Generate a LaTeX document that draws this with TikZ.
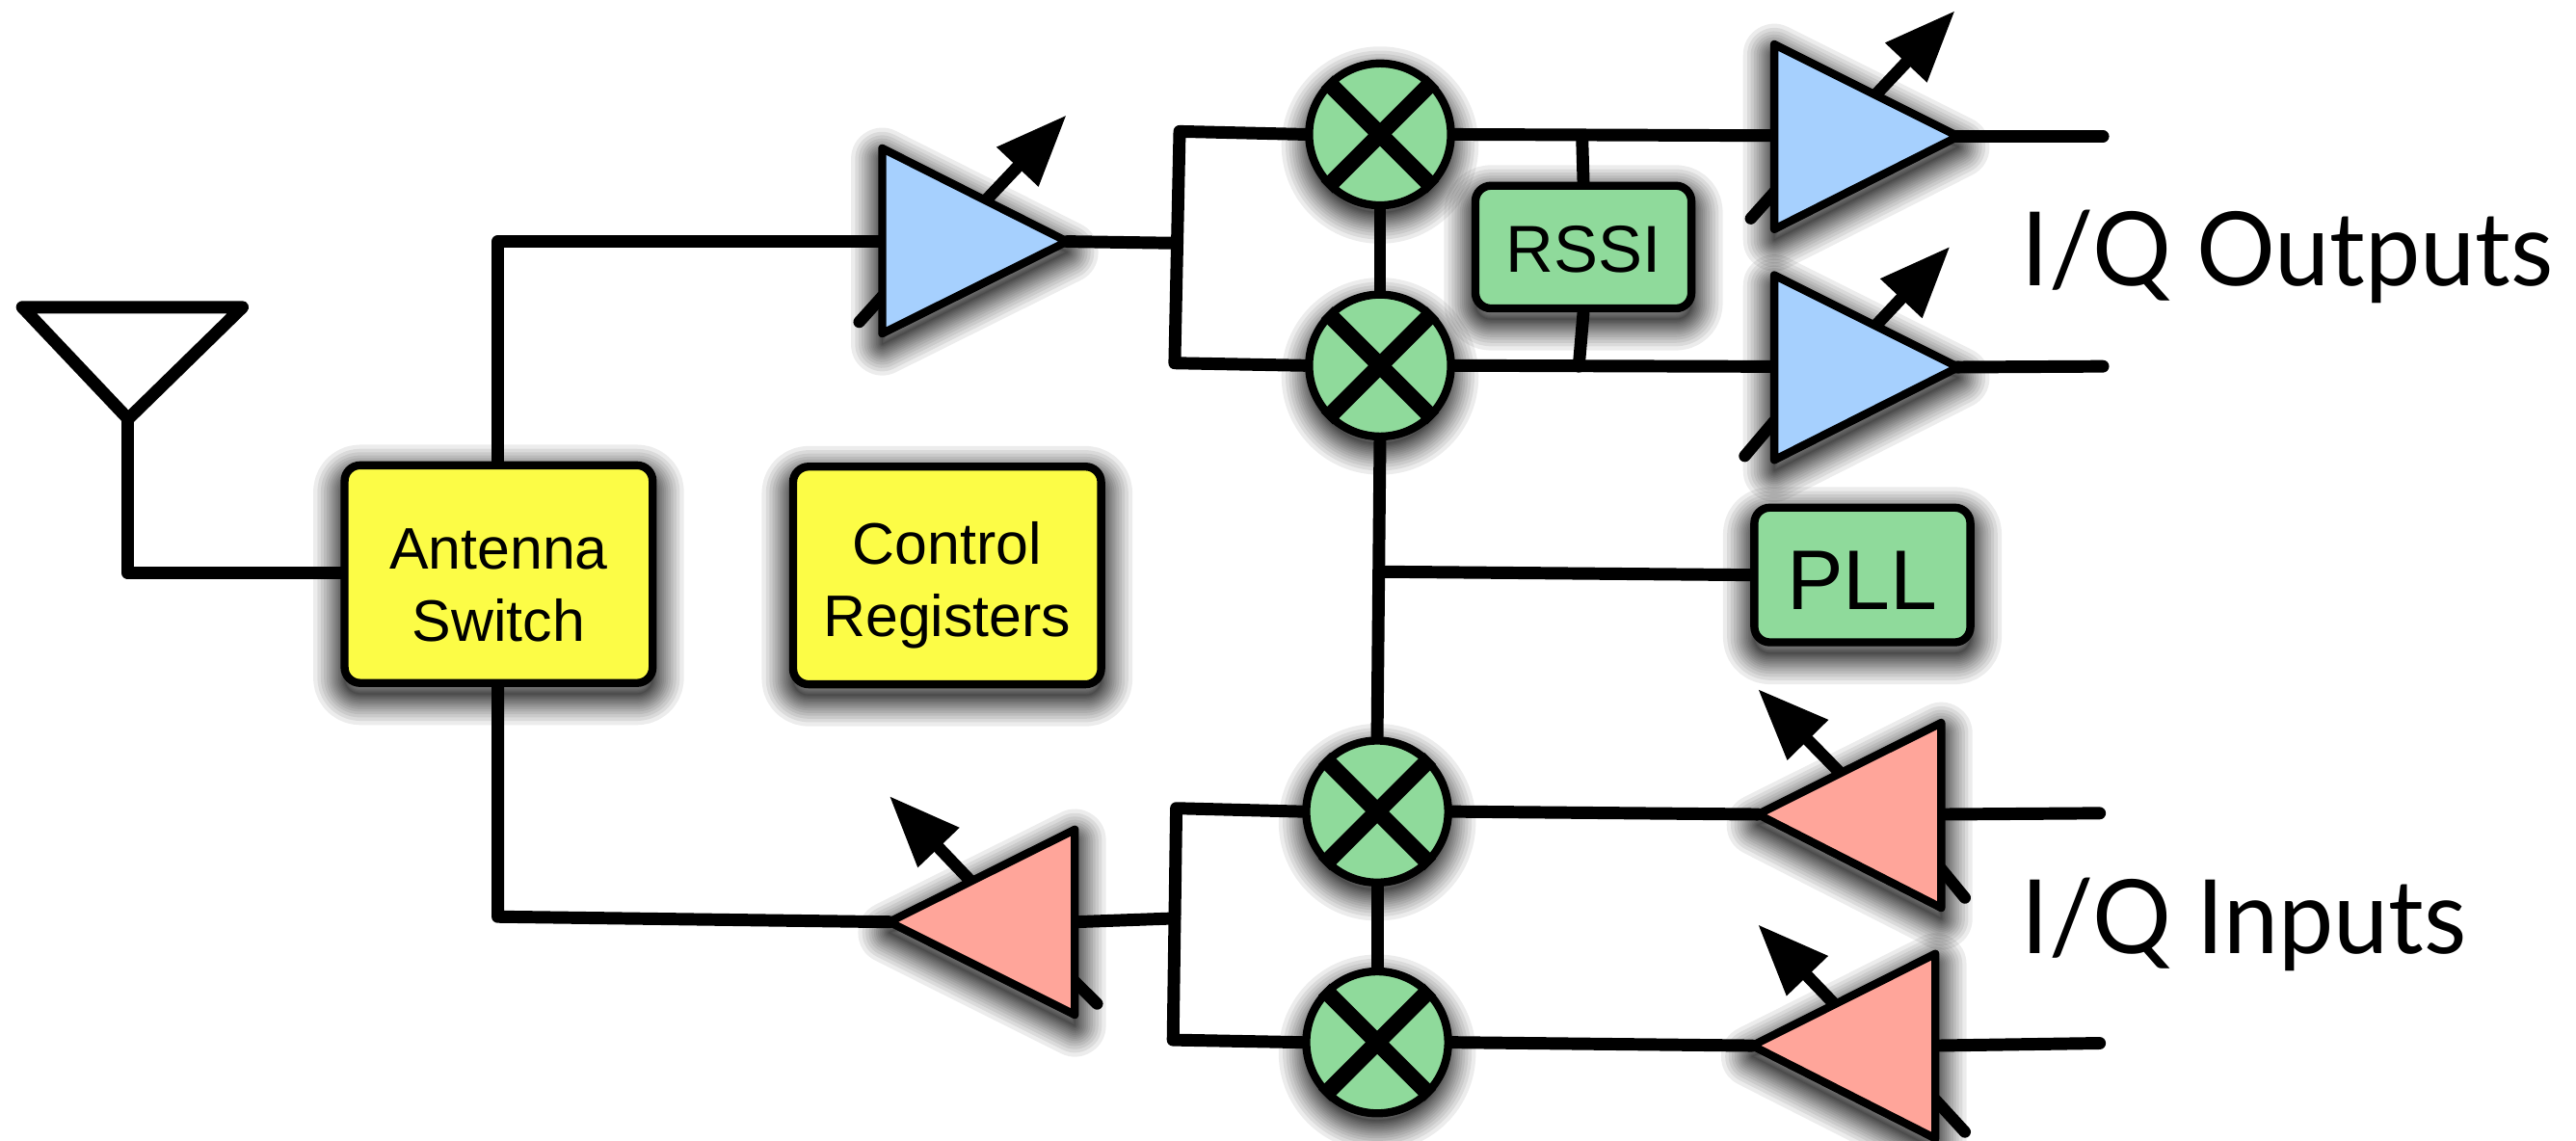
\documentclass[tikz,border=0pt]{standalone}
\usepackage{fontspec}
\setmainfont{Liberation Sans}
\newfontfamily\labelfont[FakeStretch=0.96]{Lato}
\usetikzlibrary{arrows.meta,calc}
\pgfdeclarelayer{back}
\pgfdeclarelayer{wires}
\pgfsetlayers{back,wires,main}
\def\u{0.017047cm}
\definecolor{ampblue}{HTML}{A6D0FE}
\definecolor{amppink}{HTML}{FFA59A}
\definecolor{blockgreen}{HTML}{8FDA9B}
\definecolor{blockyellow}{HTML}{FCFC46}
\tikzset{
  wire/.style={draw=black,line width=7.6*\u,line cap=round,line join=round},
  tailwire/.style={draw=black,line width=7.2*\u,line cap=round},
  gainarrow/.style={draw=black,line width=7.4*\u,-{Triangle[length=43.5*\u,width=33*\u]}},
  blockbase/.style={draw=black,line width=4.9*\u,rounded corners=9.5*\u,inner sep=0pt,align=center},
  yellowblock/.style={blockbase,fill=blockyellow,minimum width=187.5*\u,minimum height=132.5*\u,font=\fontsize{17.3}{21.3}\selectfont},
  greenblock/.style={blockbase,fill=blockgreen,minimum width=131.5*\u},
  mixernode/.style={circle,draw=black,fill=blockgreen,line width=4.9*\u,minimum size=86.4*\u,inner sep=0pt},
  mixercross/.style={draw=black,line width=10*\u},
  ampshape/.style={draw=black,line width=4.9*\u,line join=round},
  biglabel/.style={anchor=base west,inner sep=0pt,font=\labelfont\fontsize{30.3}{34}\selectfont},
  shadowlayer/.style={draw=black,opacity=.075,line join=round},
}
\newcommand\softshadow[1]{%
  \begin{pgfonlayer}{back}
  \begin{scope}[transform canvas={yshift=-6.5*\u}]
  \foreach \w in {38,33,28.8,25,21.8,18.8,16.2,13.8,11.6,9.6,7.6,5.8,4.2,2.8,1.4,.4}{%
    \path[shadowlayer,line width=\w*\u] #1;}
  \end{scope}
  \end{pgfonlayer}}
% name, corner a, corner b, tip, fill
\newcommand\amplifier[5]{%
  \coordinate (#1a) at (#2);
  \coordinate (#1b) at (#3);
  \coordinate (#1t) at (#4);
  \softshadow{(#1a) -- (#1b) -- (#1t) -- cycle}
  \path[ampshape,fill=#5] (#1a) -- (#1b) -- (#1t) -- cycle;}
\newcommand\mixer[2]{%
  \node[mixernode] (#1) at (#2) {};
  \softshadow{(#1.center) circle[radius=41*\u]}
  \draw[mixercross] (#1.45) -- (#1.225) (#1.135) -- (#1.315);}
\newcommand\blockshadow[1]{\softshadow{[rounded corners=9.5*\u] ($(#1.south west)+(2.4,-2.4)$) rectangle ($(#1.north east)+(-2.4,2.4)$)}}
\begin{document}
\begin{tikzpicture}[x=\u,y=-\u]
\useasboundingbox (0,0) rectangle (1568,694);

% blocks
\node[yellowblock] (sw) at (303.5,349.5) {\rule{0pt}{18.3pt}Antenna\\Switch};
\blockshadow{sw}
\node[yellowblock] (ctl) at (576.5,350.3) {\rule{0pt}{18.3pt}Control\\Registers};
\blockshadow{ctl}
\node[greenblock,minimum height=74.7*\u,font=\fontsize{19.6}{22}\selectfont] (rssi) at (963.8,150.4) {\rule{0pt}{15.1pt}RSSI};
\blockshadow{rssi}
\node[greenblock,minimum height=82*\u,font=\fontsize{25}{27}\selectfont] (pll) at (1133.6,350) {\rule{0pt}{20.2pt}PLL};
\blockshadow{pll}

% mixers
\mixer{m1}{840,81.8}
\mixer{m2}{840,222.5}
\mixer{m3}{838.3,494}
\mixer{m4}{838.3,634.5}

% amplifiers
\amplifier{aa}{537,90.3}{537,203}{649.5,147}{ampblue}
\amplifier{ab}{1080,27}{1080,139.5}{1192,83}{ampblue}
\amplifier{ac}{1080,167.5}{1080,280}{1192,223.5}{ampblue}
\amplifier{ad}{654.2,505}{654.2,617.7}{541.3,561.2}{amppink}
\amplifier{ae}{1181.6,440}{1181.6,552.6}{1070,495.7}{amppink}
\amplifier{af}{1178,580.6}{1178,693}{1066.6,636.5}{amppink}

% labels
\node[biglabel] (lout) at (1230,174) {I/Q Outputs};
\node[biglabel] (lin) at (1230,580.7) {I/Q Inputs};

% free ends and junctions
\coordinate (anttl) at (13.6,187);
\coordinate (anttr) at (147.6,187);
\coordinate (antb) at (78,255);
\coordinate (antc) at (78,349);
\coordinate (swup) at (303,147);
\coordinate (swdn) at (303,558);
\coordinate (sp1t) at (718,80);
\coordinate (sp1b) at (715,221);
\coordinate (sp1m) at (716,148);
\coordinate (sp2t) at (716,492);
\coordinate (sp2b) at (714,633);
\coordinate (sp2m) at (715,559);
\coordinate (rt) at (963,83);
\coordinate (rb) at (961,223);
\coordinate (pj) at (840,348);
\coordinate (o1) at (1280,83);
\coordinate (o2) at (1280,223);
\coordinate (i1) at (1278,495);
\coordinate (i2) at (1278,635);
\coordinate (gaa) at (649.2,70);
\coordinate (gab) at (1190,6.5);
\coordinate (gac) at (1187,150);
\coordinate (gad) at (541.3,484.5);
\coordinate (gae) at (1070,419.4);
\coordinate (gaf) at (1070,562.7);
\coordinate (taa) at (523,196);
\coordinate (tab) at (1065.7,133);
\coordinate (tac) at (1062,277.6);
\coordinate (tad) at (667.8,611);
\coordinate (tae) at (1196,546.5);
\coordinate (taf) at (1196,689);

\begin{pgfonlayer}{wires}
% antenna and switch
\draw[wire] (anttl) -- (anttr) -- (antb) -- (anttl);
\draw[wire] (antb) -- (antc) -- (sw.west |- antc);
\draw[wire] (sw.north -| swup) -- (swup) -- (aaa |- swup);
\draw[wire] (sw.south -| swup) -- (swdn) -- (adt);
% tx chain
\draw[wire] (aat) -- (sp1m);
\draw[wire] (m1.west) -- (sp1t) -- (sp1b) -- (m2.west);
\draw[wire] (m1.east) -- (abt);
\draw[wire] (m2.east) -- (act);
\draw[wire] (m1.south) -- (m2.north);
\draw[wire] (m2.south) -- (m3.north);
\draw[wire] (m3.south) -- (m4.north);
\draw[wire] (pj) -- (pll.west);
\draw[wire] (rt) -- (rssi.north);
\draw[wire] (rssi.south) -- (rb);
\draw[wire] (abt) -- (o1);
\draw[wire] (act) -- (o2);
% rx chain
\draw[wire] (ada |- adt) -- (sp2m);
\draw[wire] (m3.west) -- (sp2t) -- (sp2b) -- (m4.west);
\draw[wire] (m3.east) -- (aet);
\draw[wire] (m4.east) -- (aft);
\draw[wire] (aea |- aet) -- (i1);
\draw[wire] (afa |- aft) -- (i2);
% gain control arrows
\draw[gainarrow] ($(aaa)!.56!(aat)$) -- (gaa);
\draw[gainarrow] ($(aba)!.55!(abt)$) -- (gab);
\draw[gainarrow] ($(aca)!.55!(act)$) -- (gac);
\draw[gainarrow] ($(ada)!.56!(adt)$) -- (gad);
\draw[gainarrow] ($(aea)!.55!(aet)$) -- (gae);
\draw[gainarrow] ($(afa)!.55!(aft)$) -- (gaf);
% gain control tails
\draw[tailwire] (taa) -- ($(aaa)!.8!(aab)$);
\draw[tailwire] (tab) -- ($(aba)!.8!(abb)$);
\draw[tailwire] (tac) -- ($(aca)!.79!(acb)$);
\draw[tailwire] (tad) -- ($(ada)!.82!(adb)$);
\draw[tailwire] (tae) -- ($(aea)!.79!(aeb)$);
\draw[tailwire] (taf) -- ($(afa)!.79!(afb)$);
\end{pgfonlayer}
\end{tikzpicture}
\end{document}
